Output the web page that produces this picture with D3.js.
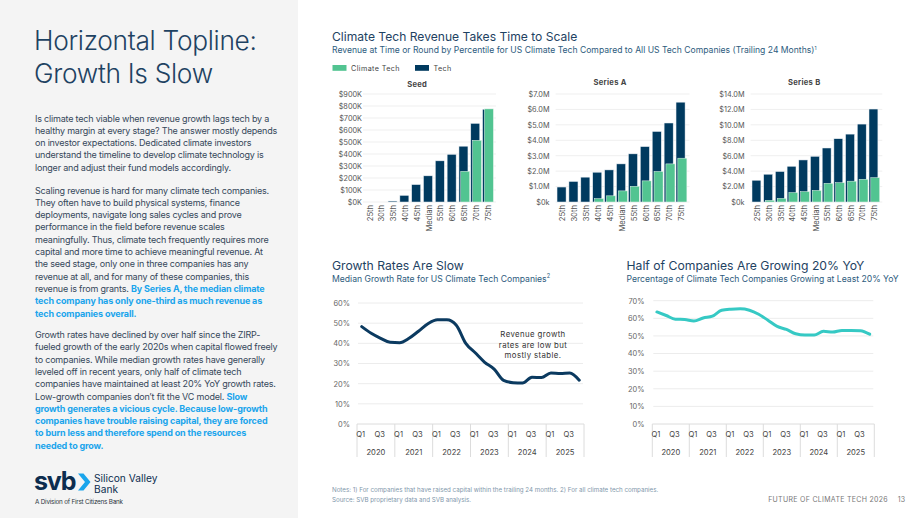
<!DOCTYPE html>
<html><head><meta charset="utf-8">
<script src="https://cdn.jsdelivr.net/npm/d3@7/dist/d3.min.js"></script>
<style>
html,body{margin:0;padding:0;background:#fff;}
svg{display:block;font-family:Inter,"Noto Sans",sans-serif;}
</style></head>
<body>
<svg id="c" width="920" height="518"></svg>
<script>
// ---------- DATA ----------
const percentiles = ["25th","30th","35th","40th","45th","Median","55th","60th","65th","70th","75th"];
const seedTech       = [0, 0, 8, 55, 145, 218, 343, 397, 465, 655, 773];   // $K
const seedClimate    = [0, 0, 0, 0, 0, 0, 0, 0, 256, 514, 776];            // $K
const seriesATech    = [0.97, 1.33, 1.61, 1.93, 2.08, 2.47, 3.12, 3.59, 4.57, 5.12, 6.47]; // $M
const seriesAClimate = [0, 0, 0, 0.22, 0.4, 0.72, 1.02, 1.37, 1.98, 2.47, 2.84];
const seriesBTech    = [2.82, 3.6, 3.95, 4.63, 5.45, 5.92, 7.0, 8.2, 8.8, 10.1, 12.05];
const seriesBClimate = [0, 0.22, 0.47, 1.22, 1.35, 1.5, 2.42, 2.5, 2.7, 2.95, 3.15];
const seedTicks = ["$0K","$100K","$200K","$300K","$400K","$500K","$600K","$700K","$800K","$900K"];
const seriesATicks = ["$0k","$1.0M","$2.0M","$3.0M","$4.0M","$5.0M","$6.0M","$7.0M"];
const seriesBTicks = ["$0k","$2.0M","$4.0M","$6.0M","$8.0M","$10.0M","$12.0M","$14.0M"];

const years = ["2020","2021","2022","2023","2024","2025"];
const quarters = ["Q1","Q2","Q3","Q4"];
const medianGrowth = [48.3, 45, 42.5, 40.5, 40.3, 42.5, 46, 49.7, 51.7, 51.7, 49, 40,
                      35.3, 30.6, 27.2, 21.6, 20.5, 20.3, 23.2, 23, 25.3, 25, 25.3, 21.7];
const pctGrowing20 = [63.6, 61.6, 59.5, 59.3, 58.5, 60.2, 61.2, 64.6, 65.2, 65.4, 64.6, 62.3,
                      58.9, 55.4, 53.7, 51.2, 50.5, 50.5, 52.6, 52.2, 53.1, 53.1, 53.0, 51.0];
const growthTicks = ["0%","10%","20%","30%","40%","50%","60%"];
const pctTicks = ["0%","10%","20%","30%","40%","50%","60%","70%"];

// ---------- COLORS ----------
const TECH = "#003a5f", CLIMATE = "#52c491", BLUE = "#1aa5ec", TEAL = "#36c9c4";

const svg = d3.select("#c");

// ---------- LEFT PANEL ----------
svg.append("rect").attr("x",0).attr("y",0).attr("width",298).attr("height",518).attr("fill","#f4f4f4");
const ttl = svg.append("text").attr("fill","#1e4262").attr("font-size",26.3).attr("font-weight",300).attr("letter-spacing",-0.3);
ttl.append("tspan").attr("x",34).attr("y",50).text("Horizontal Topline:");
ttl.append("tspan").attr("x",34).attr("y",83).text("Growth Is Slow");

const paras = [
  {y:121.5, lines:[
    [["Is climate tech viable when revenue growth lags tech by a",0]],
    [["healthy margin at every stage? The answer mostly depends",0]],
    [["on investor expectations. Dedicated climate investors",0]],
    [["understand the timeline to develop climate technology is",0]],
    [["longer and adjust their fund models accordingly.",0]]]},
  {y:193.5, lines:[
    [["Scaling revenue is hard for many climate tech companies.",0]],
    [["They often have to build physical systems, finance",0]],
    [["deployments, navigate long sales cycles and prove",0]],
    [["performance in the field before revenue scales",0]],
    [["meaningfully. Thus, climate tech frequently requires more",0]],
    [["capital and more time to achieve meaningful revenue. At",0]],
    [["the seed stage, only one in three companies has any",0]],
    [["revenue at all, and for many of these companies, this",0]],
    [["revenue is from grants. ",0],["By Series A, the median climate",1]],
    [["tech company has only one-third as much revenue as",1]],
    [["tech companies overall.",1]]]},
  {y:338, lines:[
    [["Growth rates have declined by over half since the ZIRP-",0]],
    [["fueled growth of the early 2020s when capital flowed freely",0]],
    [["to companies. While median growth rates have generally",0]],
    [["leveled off in recent years, only half of climate tech",0]],
    [["companies have maintained at least 20% YoY growth rates.",0]],
    [["Low-growth companies don\u2019t fit the VC model. ",0],["Slow",1]],
    [["growth generates a vicious cycle. Because low-growth",1]],
    [["companies have trouble raising capital, they are forced",1]],
    [["to burn less and therefore spend on the resources",1]],
    [["needed to grow.",1]]]}
];
paras.forEach(p=>{
  p.lines.forEach((ln,i)=>{
    const t = svg.append("text").attr("x",35).attr("y",p.y+i*12.3).attr("font-size",9).attr("letter-spacing",-0.2).attr("fill","#34475a");
    ln.forEach(([s,h])=>{
      const ts = t.append("tspan").text(s);
      if(h){ ts.attr("fill",BLUE).attr("font-weight",700).attr("letter-spacing",-0.15); }
    });
  });
});

// logo
svg.append("text").attr("x",34).attr("y",489.5).attr("font-size",25).attr("font-weight",700)
   .attr("letter-spacing",-1.2).attr("fill","#0c2d4f").text("svb");
svg.append("path").attr("d","M78,473.5 L83.5,473.5 L90.5,482 L83.5,490.5 L78,490.5 L85,482 Z").attr("fill",BLUE);
const lg = svg.append("text").attr("font-size",10.2).attr("fill","#0c2d4f");
lg.append("tspan").attr("x",94).attr("y",482).text("Silicon Valley");
lg.append("tspan").attr("x",94).attr("y",492.8).text("Bank");
svg.append("text").attr("x",35).attr("y",503.8).attr("font-size",6.3).attr("letter-spacing",-0.2).attr("fill","#2a3440").text("A Division of First Citizens Bank");

// ---------- TOP BAR CHART HEADER ----------
svg.append("text").attr("x",332).attr("y",40.8).attr("font-size",12.1).attr("fill","#1e4262").text("Climate Tech Revenue Takes Time to Scale");
const st = svg.append("text").attr("x",332).attr("y",53.3).attr("font-size",8.6).attr("fill","#2d5b7d")
  .text("Revenue at Time or Round by Percentile for US Climate Tech Compared to All US Tech Companies (Trailing 24 Months)");
st.append("tspan").attr("font-size",5).attr("dy",-3.5).text("1");

svg.append("rect").attr("x",332.5).attr("y",65).attr("width",14).attr("height",5.8).attr("fill",CLIMATE);
svg.append("text").attr("x",351).attr("y",70.6).attr("font-size",7.2).attr("letter-spacing",0.4).attr("fill","#444").text("Climate Tech");
svg.append("rect").attr("x",415).attr("y",65).attr("width",14).attr("height",5.8).attr("fill",TECH);
svg.append("text").attr("x",433.5).attr("y",70.6).attr("font-size",7.2).attr("letter-spacing",0.4).attr("fill","#444").text("Tech");

function barPanel(cfg){
  const g = svg.append("g");
  const x = d3.scaleBand().domain(percentiles).range(cfg.xr).paddingInner(0.24).paddingOuter(0.12);
  const y = d3.scaleLinear().domain([0,cfg.max]).range([202,94]);
  const tickVals = cfg.ticks.map((t,i)=>i*cfg.max/(cfg.ticks.length-1));
  g.selectAll(".gl").data(tickVals).join("line")
    .attr("x1",cfg.xr[0]).attr("x2",cfg.xr[1]+3).attr("y1",d=>y(d)).attr("y2",d=>y(d))
    .attr("stroke","#efefef").attr("stroke-width",1);
  const ya = d3.axisLeft(y).tickValues(tickVals).tickSize(0).tickPadding(0)
     .tickFormat((d,i)=>cfg.ticks[i]);
  const yg = g.append("g").attr("transform",`translate(${cfg.labelX},0)`).call(ya);
  yg.select(".domain").remove();
  yg.selectAll("text").attr("font-size",7.3).attr("fill","#555").attr("font-family","Inter");
  const bw = x.bandwidth();
  g.selectAll(".tb").data(percentiles).join("rect")
    .attr("x",d=>x(d)).attr("width",bw)
    .attr("y",(d,i)=>y(cfg.tech[i])).attr("height",(d,i)=>y(0)-y(cfg.tech[i]))
    .attr("fill",TECH).attr("stroke","#e8eef3").attr("stroke-width",0.5);
  g.selectAll(".cb").data(percentiles).join("rect")
    .attr("x",d=>x(d)+1.8).attr("width",bw)
    .attr("y",(d,i)=>y(cfg.climate[i])).attr("height",(d,i)=>y(0)-y(cfg.climate[i]))
    .attr("fill",CLIMATE).attr("stroke","#e8f5ee").attr("stroke-width",0.5);
  const xa = d3.axisBottom(x).tickSize(0).tickPadding(0);
  const xg = g.append("g").attr("transform","translate(1,205)").call(xa);
  xg.select(".domain").remove();
  xg.selectAll("text").attr("font-size",7.6).attr("fill","#555").attr("font-family","Inter")
    .attr("transform","rotate(-90)").attr("text-anchor","end").attr("dy","0.35em").attr("x",0).attr("y",0).attr("dx",0);
  g.append("text").attr("x",x("45th")+bw/2+1).attr("y",cfg.titleY).attr("text-anchor","middle")
    .attr("font-size",7.6).attr("font-weight",700).attr("letter-spacing",0.3).attr("fill","#444").text(cfg.title);
}
barPanel({title:"Seed", titleY:86.5, xr:[363,493], labelX:362, max:900, ticks:seedTicks, tech:seedTech, climate:seedClimate});
barPanel({title:"Series A", titleY:84.5, xr:[555.6,686.5], labelX:549.5, max:7, ticks:seriesATicks, tech:seriesATech, climate:seriesAClimate});
barPanel({title:"Series B", titleY:84.5, xr:[750.6,879.3], labelX:744.5, max:14, ticks:seriesBTicks, tech:seriesBTech, climate:seriesBClimate});

// ---------- LINE CHARTS ----------
function linePanel(cfg){
  const g = svg.append("g");
  const idx = d3.range(24);
  const x = d3.scaleBand().domain(idx).range(cfg.xr);
  const y = d3.scaleLinear().domain([0,cfg.max]).range([424,cfg.topY]);
  const tickVals = cfg.ticks.map((t,i)=>i*10);
  g.append("text").attr("x",cfg.tx).attr("y",270).attr("font-size",12.2).attr("fill","#1e4262").text(cfg.title);
  const s = g.append("text").attr("x",cfg.tx).attr("y",281.7).attr("font-size",8.65).attr("fill","#2d5b7d").text(cfg.sub);
  if(cfg.sup) s.append("tspan").attr("font-size",5.5).attr("dy",-3.5).text(cfg.sup);
  g.selectAll(".gl").data(tickVals.slice(1)).join("line")
    .attr("x1",cfg.xr[0]+1).attr("x2",cfg.xr[1]-1).attr("y1",d=>y(d)).attr("y2",d=>y(d))
    .attr("stroke","#ececec").attr("stroke-width",1);
  const ya = d3.axisLeft(y).tickValues(tickVals).tickSize(0).tickPadding(0).tickFormat((d,i)=>cfg.ticks[i]);
  const yg = g.append("g").attr("transform",`translate(${cfg.labelX},0)`).call(ya);
  yg.select(".domain").remove();
  yg.selectAll("text").attr("font-size",7.4).attr("fill","#666").attr("font-family","Inter");
  g.append("line").attr("x1",cfg.xr[0]).attr("x2",cfg.xr[1]).attr("y1",424).attr("y2",424).attr("stroke","#dcdcdc");
  const yearW = (cfg.xr[1]-cfg.xr[0])/years.length;
  d3.range(years.length+1).forEach(k=>{
    g.append("line").attr("x1",cfg.xr[0]+k*yearW).attr("x2",cfg.xr[0]+k*yearW).attr("y1",424).attr("y2",457)
      .attr("stroke","#dcdcdc");
  });
  g.selectAll(".ql").data(idx.filter(i=>i%2===0)).join("text")
    .attr("x",i=>x(i)+x.bandwidth()/2-1).attr("y",437.3).attr("text-anchor","middle")
    .attr("font-size",7.6).attr("fill","#444").text(i=>quarters[i%4]);
  g.selectAll(".yl").data(years).join("text")
    .attr("x",(d,k)=>cfg.xr[0]+(k+0.5)*yearW).attr("y",454.7).attr("text-anchor","middle")
    .attr("font-size",7.6).attr("fill","#444").text(d=>d);
  const line = d3.line().x((d,i)=>x(i)+x.bandwidth()/2).y(d=>y(d)).curve(d3.curveMonotoneX);
  g.append("path").datum(cfg.data).attr("d",line).attr("fill","none").attr("stroke",cfg.color)
    .attr("stroke-width",3).attr("stroke-linejoin","round").attr("stroke-linecap","round");
}
linePanel({title:"Growth Rates Are Slow", sub:"Median Growth Rate for US Climate Tech Companies", sup:"2",
  tx:332, xr:[357,584], labelX:350, max:60, topY:303, ticks:growthTicks, data:medianGrowth, color:"#0b3a60"});
linePanel({title:"Half of Companies Are Growing 20% YoY", sub:"Percentage of Climate Tech Companies Growing at Least 20% YoY",
  tx:626.5, xr:[652.3,874.3], labelX:644.5, max:70, topY:300.7, ticks:pctTicks, data:pctGrowing20, color:TEAL});

const ann = svg.append("text").attr("text-anchor","middle").attr("font-size",7.8).attr("letter-spacing",0.4).attr("fill","#333");
["Revenue growth","rates are low but","mostly stable."].forEach((s,i)=>{
  ann.append("tspan").attr("x",533).attr("y",337+i*10.6).text(s);
});

// ---------- FOOTER ----------
svg.append("text").attr("x",332).attr("y",492).attr("font-size",6.2).attr("fill","#7f97ab")
  .text("Notes: 1) For companies that have raised capital within the trailing 24 months. 2) For all climate tech companies.");
svg.append("text").attr("x",332).attr("y",501.5).attr("font-size",6.2).attr("fill","#7f97ab")
  .text("Source: SVB proprietary data and SVB analysis.");
svg.append("text").attr("x",888).attr("y",501.5).attr("text-anchor","end").attr("font-size",7).attr("letter-spacing",0.3).attr("fill","#777")
  .text("FUTURE OF CLIMATE TECH 2026");
svg.append("text").attr("x",905).attr("y",501.5).attr("text-anchor","end").attr("font-size",7).attr("fill","#777").text("13");
</script>
</body></html>
